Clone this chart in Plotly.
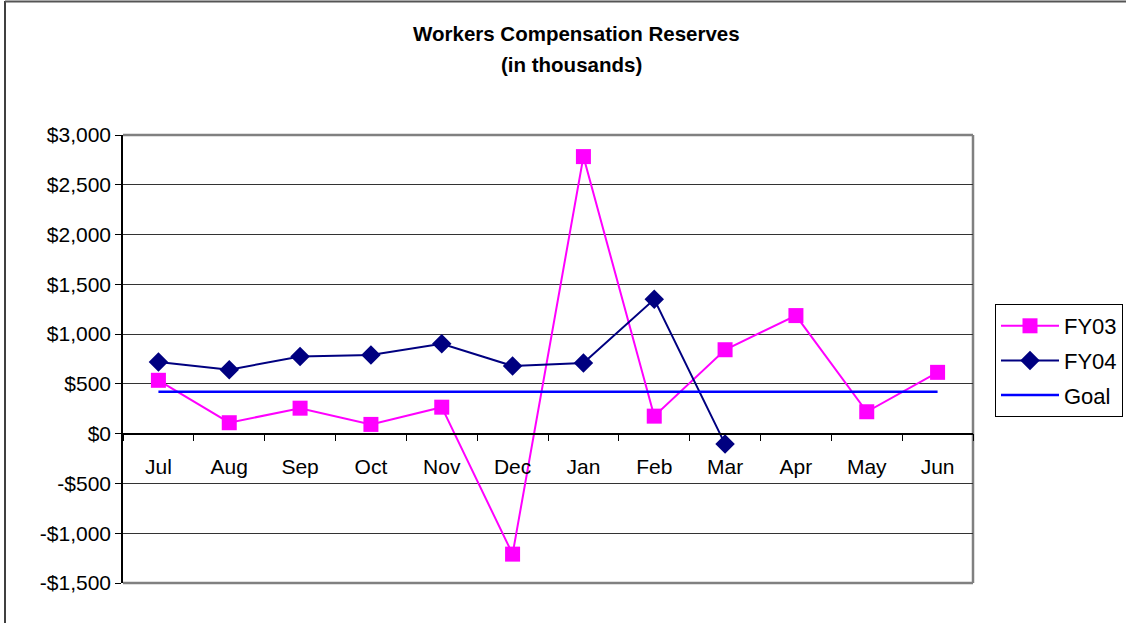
import plotly.graph_objects as go

months = ["Jul", "Aug", "Sep", "Oct", "Nov", "Dec", "Jan", "Feb", "Mar", "Apr", "May", "Jun"]
fy03 = [536, 110, 256, 93, 266, -1210, 2783, 176, 843, 1186, 220, 616]
fy04 = [720, 643, 776, 790, 903, 680, 710, 1350, -105, None, None, None]
goal = [420] * 12
ytick_vals = [3000, 2500, 2000, 1500, 1000, 500, 0, -500, -1000, -1500]
ytick_text = ["$3,000", "$2,500", "$2,000", "$1,500", "$1,000", "$500", "$0", "-$500", "-$1,000", "-$1,500"]

W, H = 1126, 623
L, R, T, B = 123, 973, 135, 583
pw, ph = R - L, B - T

def px_x(x):
    return (x - L) / pw

def px_y(y):
    return (B - y) / ph

fig = go.Figure()
fig.add_trace(go.Scatter(
    x=months, y=fy03, name="FY03", mode="lines+markers", legendgroup="a",
    line=dict(color="#FF00FF", width=2),
    marker=dict(symbol="square", size=15, color="#FF00FF"),
))
fig.add_trace(go.Scatter(
    x=months, y=fy04, name="FY04", mode="lines+markers", legendgroup="b",
    line=dict(color="#000080", width=2),
    marker=dict(symbol="diamond", size=15, color="#000080"),
))
fig.add_trace(go.Scatter(
    x=months, y=goal, name="Goal", mode="lines", legendgroup="c",
    line=dict(color="#0000FF", width=2.5),
))

font = "Liberation Sans, Arial, sans-serif"

fig.update_layout(
    width=W, height=H,
    margin=dict(l=L, r=W - R, t=T, b=H - B, pad=0, autoexpand=False),
    paper_bgcolor="white", plot_bgcolor="white",
    font=dict(family=font, color="black", size=21),
    showlegend=True,
    legend=dict(
        x=px_x(995), y=px_y(304), xanchor="left", yanchor="top",
        bordercolor="black", borderwidth=1, bgcolor="white",
        font=dict(size=22, family=font), itemwidth=58, tracegroupgap=3,
    ),
    xaxis=dict(
        type="category", range=[-0.5, 11.5],
        anchor="free", position=1 / 3,
        showline=True, linecolor="black", linewidth=1.5,
        ticks="outside", tickson="boundaries", ticklen=7, tickcolor="black",
        showgrid=False, zeroline=False,
        ticklabelstandoff=14,
        tickfont=dict(size=21, family=font),
    ),
    yaxis=dict(
        range=[-1500, 3000],
        tickvals=ytick_vals, ticktext=ytick_text,
        showline=True, linecolor="black", linewidth=1.5,
        ticks="outside", ticklen=6, tickcolor="black",
        showgrid=True, gridcolor="#333333", gridwidth=1,
        zeroline=False,
        tickfont=dict(size=21, family=font),
    ),
    shapes=[
        dict(type="line", xref="paper", yref="paper", x0=0, x1=1, y0=1, y1=1,
             line=dict(color="#808080", width=2.5), layer="below"),
        dict(type="line", xref="paper", yref="paper", x0=1, x1=1, y0=0, y1=1,
             line=dict(color="#808080", width=2.5), layer="below"),
        dict(type="line", xref="paper", yref="paper", x0=0, x1=1, y0=0, y1=0,
             line=dict(color="#808080", width=2.5), layer="below"),
        dict(type="line", xref="paper", yref="paper", x0=px_x(5), x1=px_x(5),
             y0=px_y(1), y1=px_y(640), line=dict(color="black", width=1.5)),
        dict(type="line", xref="paper", yref="paper", x0=px_x(5), x1=px_x(1140),
             y0=px_y(1.5), y1=px_y(1.5), line=dict(color="#555555", width=2)),
    ],
    annotations=[
        dict(text="<b>Workers Compensation Reserves</b>", xref="paper", yref="paper",
             x=px_x(576), y=px_y(34), xanchor="center", yanchor="middle",
             showarrow=False, font=dict(size=20.5, family=font)),
        dict(text="<b>(in thousands)</b>", xref="paper", yref="paper",
             x=px_x(571), y=px_y(64), xanchor="center", yanchor="middle",
             showarrow=False, font=dict(size=20.5, family=font)),
    ],
)

fig.write_html("out.html", config={"displayModeBar": False},
               post_script="document.body.style.margin='0px';")
